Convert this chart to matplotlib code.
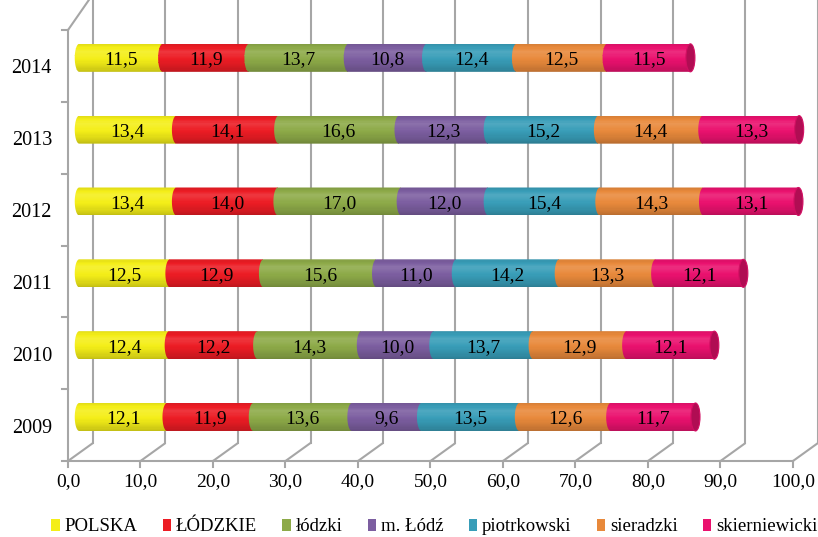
import matplotlib
matplotlib.use("Agg")
import matplotlib.pyplot as plt
import matplotlib.colors as mcolors
from matplotlib.patches import Patch, Ellipse, PathPatch
from matplotlib.path import Path
import numpy as np

# ---------------- data ----------------
years = ["2009", "2010", "2011", "2012", "2013", "2014"]
series_names = ["POLSKA", "ŁÓDZKIE", "łódzki", "m. Łódź", "piotrkowski", "sieradzki", "skierniewicki"]
polska        = [12.1, 12.4, 12.5, 13.4, 13.4, 11.5]
lodzkie       = [11.9, 12.2, 12.9, 14.0, 14.1, 11.9]
lodzki        = [13.6, 14.3, 15.6, 17.0, 16.6, 13.7]
m_lodz        = [9.6, 10.0, 11.0, 12.0, 12.3, 10.8]
piotrkowski   = [13.5, 13.7, 14.2, 15.4, 15.2, 12.4]
sieradzki     = [12.6, 12.9, 13.3, 14.3, 14.4, 12.5]
skierniewicki = [11.7, 12.1, 12.1, 13.1, 13.3, 11.5]
x_ticks = [0, 10, 20, 30, 40, 50, 60, 70, 80, 90, 100]
x_tick_labels = ["0,0", "10,0", "20,0", "30,0", "40,0", "50,0", "60,0", "70,0", "80,0", "90,0", "100,0"]

series = [polska, lodzkie, lodzki, m_lodz, piotrkowski, sieradzki, skierniewicki]
colors = ["#F4EE18", "#EC1C24", "#8DAA48", "#7C5EA0", "#389DB8", "#E8893B", "#EA116E"]

plt.rcParams["font.family"] = ["Liberation Serif", "DejaVu Serif"]
serif = ["Liberation Serif", "DejaVu Serif"]

# ---------------- figure / scales ----------------
W, H = 818, 537
fig = plt.figure(figsize=(W / 100, H / 100), dpi=100)
ax = fig.add_axes([0, 0, 1, 1])
ax.set_axis_off()

px_per_x = 7.25           # pixels per x unit
x0_pix = 68               # pixel of value 0 on the front floor
floor_pix = 461           # pixel row of the front floor
cat_pix = 71.83           # pixels per category
ax.set_xlim(-x0_pix / px_per_x, (W - x0_pix) / px_per_x)
ax.set_ylim((floor_pix - H) / cat_pix, floor_pix / cat_pix)

DX = 25 / px_per_x        # depth offset (x units)
DY = 18 / cat_pix         # depth offset (category units)
n = len(years)
grid_col = "#A6A6A6"

# back wall gridlines + floor diagonals
for xv in x_ticks:
    ax.plot([xv, xv + DX], [0, DY], color=grid_col, lw=1.5, zorder=1, solid_capstyle="butt")
    ax.plot([xv + DX, xv + DX], [DY, n + 0.25 + DY], color=grid_col, lw=1.5, zorder=1)
    ax.plot([xv, xv], [0, -6 / cat_pix], color=grid_col, lw=1.5, zorder=1)
ax.plot([0, 100], [0, 0], color=grid_col, lw=1.5, zorder=1)
ax.plot([0, 0], [0, n], color=grid_col, lw=1.5, zorder=1)
ax.plot([0, DX], [n, n + 0.25 + DY], color=grid_col, lw=1.5, zorder=1)
for k in range(n + 1):
    ax.plot([-6 / px_per_x, 0], [k, k], color=grid_col, lw=1.5, zorder=1)

# tick labels
for xv, lab in zip(x_ticks, x_tick_labels):
    ax.text(xv, -21 / cat_pix, lab, ha="center", va="center", fontsize=14, family=serif)
for i, y in enumerate(years):
    ax.text(-16 / px_per_x, i + 0.5 - 3 / cat_pix, y, ha="right", va="center", fontsize=14.5, family=serif)

# ---------------- cylinders ----------------
bar_h = 28 / cat_pix
ell_w = 9 / px_per_x
depth_frac = 0.45
nstrip = 24


def shade(c, t):
    if t < 0.72:
        m = 0.78 + (1.08 - 0.78) * (t / 0.72) ** 0.7
    else:
        m = 1.08 - 0.16 * (t - 0.72) / 0.28
    rgb = np.array(mcolors.to_rgb(c))
    if m >= 1:
        rgb = rgb + (1 - rgb) * (m - 1) * 1.5
    else:
        rgb = rgb * m
    return np.clip(rgb, 0, 1)


def capsule_path(xl, w, yc, h, ew):
    th = np.linspace(np.pi / 2, 3 * np.pi / 2, 40)
    ex = xl + (ew / 2) * np.cos(th)
    ey = yc + (h / 2) * np.sin(th)
    verts = list(zip(ex, ey)) + [(xl + w, yc - h / 2), (xl + w, yc + h / 2), (xl, yc + h / 2)]
    codes = [Path.MOVETO] + [Path.LINETO] * (len(verts) - 1)
    verts.append(verts[0])
    codes.append(Path.CLOSEPOLY)
    return Path(verts, codes)


for i in range(n):
    yc = i + 0.5 + depth_frac * DY
    left = depth_frac * DX
    vals = [s[i] for s in series]
    for j, (v, c) in enumerate(zip(vals, colors)):
        z = 10 + j
        clip = PathPatch(capsule_path(left, v, yc, bar_h, ell_w), transform=ax.transData,
                         facecolor="none", edgecolor="none")
        ax.add_patch(clip)
        for k in range(nstrip):
            t = (k + 0.5) / nstrip
            yb = yc - bar_h / 2 + k * bar_h / nstrip
            bars = ax.barh(yb, v + ell_w, left=left - ell_w, height=bar_h / nstrip * 1.05,
                           align="edge", color=shade(c, t), edgecolor="none", zorder=z)
            for b in bars:
                b.set_clip_path(clip)
        ax.text(left + v / 2, yc - 2 / cat_pix, f"{v:.1f}".replace(".", ","), ha="center", va="center",
                fontsize=14, family=serif, zorder=30)
        left += v
    cap_col = np.array(mcolors.to_rgb(colors[-1])) * 0.75
    ax.add_patch(Ellipse((left, yc), ell_w, bar_h, facecolor=cap_col,
                         edgecolor=np.array(mcolors.to_rgb(colors[-1])) * 0.9, lw=0.8, zorder=25))

# ---------------- legend ----------------
handles = [Patch(facecolor=c, edgecolor="none") for c in colors]
fig.legend(handles, series_names, loc="center", bbox_to_anchor=(0.531, 0.019), ncol=7,
           frameon=False, prop={"family": serif, "size": 13.5}, handlelength=0.45, handleheight=0.6,
           handletextpad=0.25, columnspacing=1.35, borderaxespad=0, borderpad=0)

fig.savefig("out.png", dpi=100)
